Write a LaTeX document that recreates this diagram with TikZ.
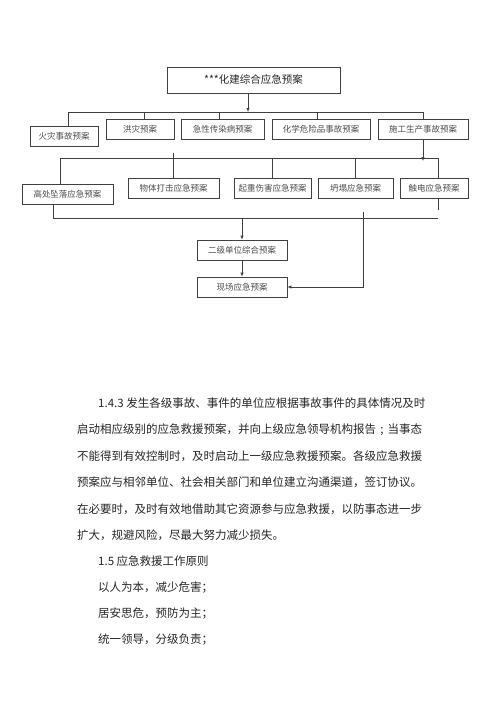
\documentclass[tikz,border=0pt]{standalone}
\usepackage{fontspec}
\newfontfamily\cjk{Noto Sans CJK SC}
\usetikzlibrary{arrows.meta}
\begin{document}
\begin{tikzpicture}[x=1pt,y=-1pt,
  box/.style={draw=black!75, line width=0.6pt, inner sep=0pt, text=black!70, font=\cjk\fontsize{8.5}{10}\selectfont, minimum height=20},
  topbox/.style={box, font=\cjk\fontsize{10.5}{12}\selectfont, text=black!85},
  conn/.style={draw=black!75, line width=0.6pt},
  arr/.style={conn, -{Latex[length=4pt,width=3.2pt]}},
  para/.style={anchor=west, inner sep=0pt, text=black!85, font=\cjk\fontsize{11.5}{13}\selectfont}]
\useasboundingbox[fill=white] (0,0) rectangle (500,707);

% level 0
\node[topbox, minimum width=173, minimum height=26] (top) at (253.5,80) {***化建综合应急预案};

% level 1
\node[box, minimum width=68] (huozai) at (64,136) {火灾事故预案};
\node[box, minimum width=68] (hongzai) at (140,129) {洪灾预案};
\node[box, minimum width=83] (jixing) at (222.5,129) {急性传染病预案};
\node[box, minimum width=98] (huaxue) at (321,129) {化学危险品事故预案};
\node[box, minimum width=90] (shigong) at (423,129) {施工生产事故预案};

\coordinate (b1L) at (68,112);
\coordinate (b1R) at (423,112);
\draw[arr] ([xshift=-5.5]top.south) -- ([xshift=-5.5]top.south |- b1L);
\draw[conn] (b1L) -- (b1R);
\draw[conn] (b1L) -- (b1L |- huozai.north);
\draw[conn] ([xshift=4]hongzai.north) -- ([xshift=4]hongzai.north |- b1L);
\draw[conn] ([xshift=-3.5]jixing.north) -- ([xshift=-3.5]jixing.north |- b1L);
\draw[conn] ([xshift=-4]huaxue.north) -- ([xshift=-4]huaxue.north |- b1L);
\draw[conn] (shigong.north) -- (b1R);

% level 2
\node[box, minimum width=91] (gaochu) at (67.5,194) {高处坠落应急预案};
\node[box, minimum width=91] (wuti) at (173.5,188) {物体打击应急预案};
\node[box, minimum width=77] (qizhong) at (272.5,188) {起重伤害应急预案};
\node[box, minimum width=75] (tanta) at (355.5,188) {坍塌应急预案};
\node[box, minimum width=68] (chudian) at (434,188) {触电应急预案};

\coordinate (b2L) at (60,158);
\coordinate (b2R) at (438,158);
\coordinate (wutitop) at (173,153);
\draw[arr] (shigong.south) -- ([yshift=-3]shigong.south |- b2L);
\draw[conn] (b2L) -- (b2R);
\draw[conn] (b2L) -- (b2L |- gaochu.north);
\draw[conn] (wutitop) -- (wutitop |- wuti.north);
\draw[conn] (qizhong.north) -- (qizhong.north |- b2L);
\draw[conn] (tanta.north) -- (tanta.north |- b2L);
\draw[conn] (b2R) -- (b2R |- chudian.north);

% level 3
\node[box, minimum width=90] (erji) at (242,250) {二级单位综合预案};
\node[box, minimum width=90] (xianchang) at (242,287) {现场应急预案};

\coordinate (b3R) at (438,218);
\coordinate (cdstub) at (438,210);
\coordinate (sideTop) at (363,212);
\draw[conn] ([xshift=-14.5]gaochu.south) -- ([xshift=-14.5]gaochu.south |- b3R) -- (b3R);
\draw[conn] (chudian.south -| b3R) -- (cdstub);
\draw[arr] (erji.north |- b3R) -- (erji.north);
\draw[arr] (erji.south) -- (xianchang.north);
\draw[arr] (sideTop) -- (sideTop |- xianchang.east) -- (xianchang.east);

% text
\node[para] (p1) at (98,403.5) {1.4.3 发生各级事故、事件的单位应根据事故事件的具体情况及时};
\node[para] (p2) at (77,430) {启动相应级别的应急救援预案，并向上级应急领导机构报告\makebox[11.5pt][c]{;}当事态};
\node[para] (p3) at (77,456) {不能得到有效控制时，及时启动上一级应急救援预案。各级应急救援};
\node[para] (p4) at (77,482.5) {预案应与相邻单位、社会相关部门和单位建立沟通渠道，签订协议。};
\node[para] (p5) at (77,509) {在必要时，及时有效地借助其它资源参与应急救援，以防事态进一步};
\node[para] (p6) at (77,535) {扩大，规避风险，尽最大努力减少损失。};
\node[para] (p7) at (98,561) {1.5 应急救援工作原则};
\node[para] (p8) at (98,588) {以人为本，减少危害；};
\node[para] (p9) at (98,614) {居安思危，预防为主；};
\node[para] (p10) at (98,640) {统一领导，分级负责；};
\end{tikzpicture}
\end{document}
